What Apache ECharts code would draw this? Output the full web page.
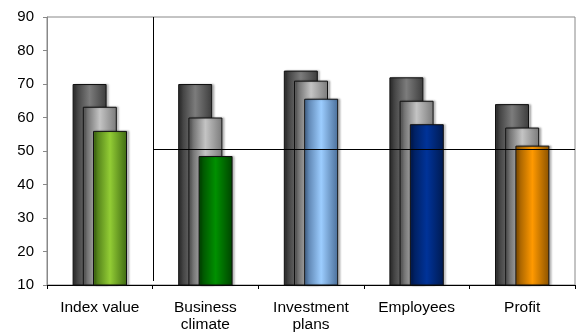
<!DOCTYPE html>
<html>
<head>
<meta charset="utf-8">
<script src="https://cdn.jsdelivr.net/npm/echarts@6/dist/echarts.min.js"></script>
<style>
  html, body { margin: 0; padding: 0; background: #fff; }
  #chart { width: 579px; height: 333px; }
</style>
</head>
<body>
<div id="chart"></div>
<script>
// Categories and values
const categories = ['Index value', 'Business\nclimate', 'Investment\nplans', 'Employees', 'Profit'];
const backValues = [70, 70, 74, 72, 64];
const middleValues = [63.2, 60, 71, 65, 57];
const frontValues = [56, 48.5, 65.6, 58, 51.6];
// Front bar colours per category: [edge, centre]
const frontColors = [
  ['#3f6a12', '#93cd35'],
  ['#004400', '#009000'],
  ['#4a6e99', '#9ccdff'],
  ['#001a50', '#003399'],
  ['#8a5200', '#ff9900']
];
const yTicks = { min: 10, max: 90, interval: 10 };
const referenceLevel = 50.6;
const dividerPos = 1.01;

const G = echarts.graphic.LinearGradient;
const cyl = (edgeL, mid, edgeR) => new G(0, 0, 1, 0, [
  { offset: 0, color: edgeL },
  { offset: 0.5, color: mid },
  { offset: 1, color: edgeR }
]);

const shadow = { shadowColor: 'rgba(0,0,0,0.25)', shadowBlur: 2, shadowOffsetX: 2, shadowOffsetY: 0 };

const barBase = {
  type: 'bar',
  barWidth: 34,
  barGap: '-70%',
  silent: true
};

const chart = echarts.init(document.getElementById('chart'));
chart.setOption({
  animation: false,
  grid: { left: 47, right: 4, top: 17, bottom: 46, show: true, borderColor: '#888', borderWidth: 1 },
  xAxis: [{
    type: 'category',
    data: categories,
    axisLine: { lineStyle: { color: '#000', width: 1 } },
    axisTick: { show: true, length: 4, lineStyle: { color: '#000' } },
    axisLabel: { fontFamily: 'Liberation Sans, Arial', fontSize: 15.5, color: '#000', margin: 14, lineHeight: 17 },
    splitLine: { show: false }
  }, {
    type: 'value', min: 0, max: 5, show: false
  }],
  yAxis: {
    type: 'value',
    min: yTicks.min, max: yTicks.max, interval: yTicks.interval,
    axisLine: { show: true, lineStyle: { color: '#888' } },
    axisTick: { show: true, length: 4, lineStyle: { color: '#888' } },
    axisLabel: { fontFamily: 'Liberation Sans, Arial', fontSize: 15, color: '#000', margin: 13 },
    splitLine: { show: false }
  },
  series: [
    Object.assign({}, barBase, {
      data: backValues,
      itemStyle: Object.assign({ color: cyl('#2e2e2e', '#7c7c7c', '#3c3c3c'), borderColor: '#111', borderWidth: 1 }, shadow)
    }),
    Object.assign({}, barBase, {
      data: middleValues,
      itemStyle: Object.assign({ color: cyl('#555555', '#c4c4c4', '#7a7a7a'), borderColor: '#111', borderWidth: 1 }, shadow)
    }),
    Object.assign({}, barBase, {
      data: frontValues.map((v, i) => ({
        value: v,
        itemStyle: { color: cyl(frontColors[i][0], frontColors[i][1], frontColors[i][0]) }
      })),
      itemStyle: Object.assign({ borderColor: '#111', borderWidth: 1 }, shadow)
    }),
    {
      type: 'line',
      xAxisIndex: 1,
      data: [],
      silent: true,
      markLine: {
        symbol: 'none',
        silent: true,
        label: { show: false },
        lineStyle: { color: '#000', width: 1, type: 'solid' },
        data: [
          [{ coord: [dividerPos, 90] }, { coord: [dividerPos, 11.2] }],
          [{ coord: [dividerPos, referenceLevel] }, { coord: [5, referenceLevel] }]
        ]
      }
    }
  ]
});
</script>
</body>
</html>
